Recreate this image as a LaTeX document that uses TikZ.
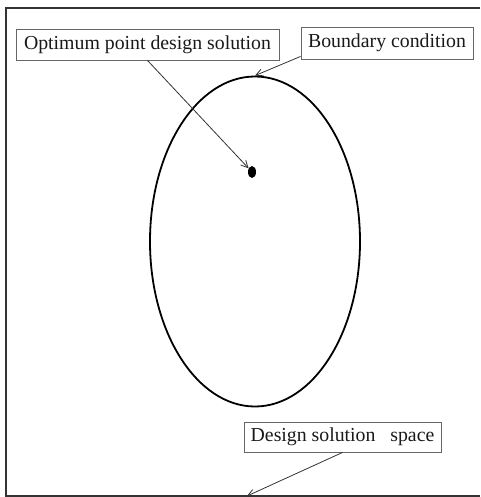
\documentclass[tikz,border=0pt]{standalone}
\usepackage{fontspec}
\setmainfont{Liberation Serif}
\usetikzlibrary{shapes.geometric,arrows.meta}
\begin{document}
\begin{tikzpicture}[x=1pt,y=1pt,
  lbl/.style={draw=black!60,line width=0.9pt,inner sep=0pt,font=\fontsize{19.8}{22}\selectfont,text=black!90},
  ptr/.style={draw=black!80,line width=0.8pt,-{Straight Barb[length=7pt,width=7pt]}}]
\useasboundingbox (0,0) rectangle (480,-497);
% frame
\draw[black!80,line width=2pt] (480,-8) -- (6,-8) -- (6,-496) -- (480,-496);
% ellipse
\node[ellipse,draw=black,line width=1.8pt,minimum width=210pt,minimum height=330pt,inner sep=0pt] (ell) at (255,-241.5) {};
\node[ellipse,fill=black,minimum width=8pt,minimum height=12pt,inner sep=0pt] (dot) at (252,-172) {};
% labels
\node[lbl,minimum width=263pt,minimum height=31pt] (opt) at (147.5,-44.5) {Optimum point design solution};
\node[lbl,minimum width=172pt,minimum height=32pt] (bnd) at (387,-43) {Boundary condition};
\node[lbl,minimum width=197pt,minimum height=30pt] (des) at (342.5,-437) {Design solution\ \ \ space};
\coordinate (spc) at (247,-496);
% pointers
\draw[ptr] (opt.south) -- (dot);
\draw[ptr] ([yshift=3pt]bnd.south west) -- (ell.north);
\draw[ptr] (des.south) -- (spc);
\end{tikzpicture}
\end{document}
